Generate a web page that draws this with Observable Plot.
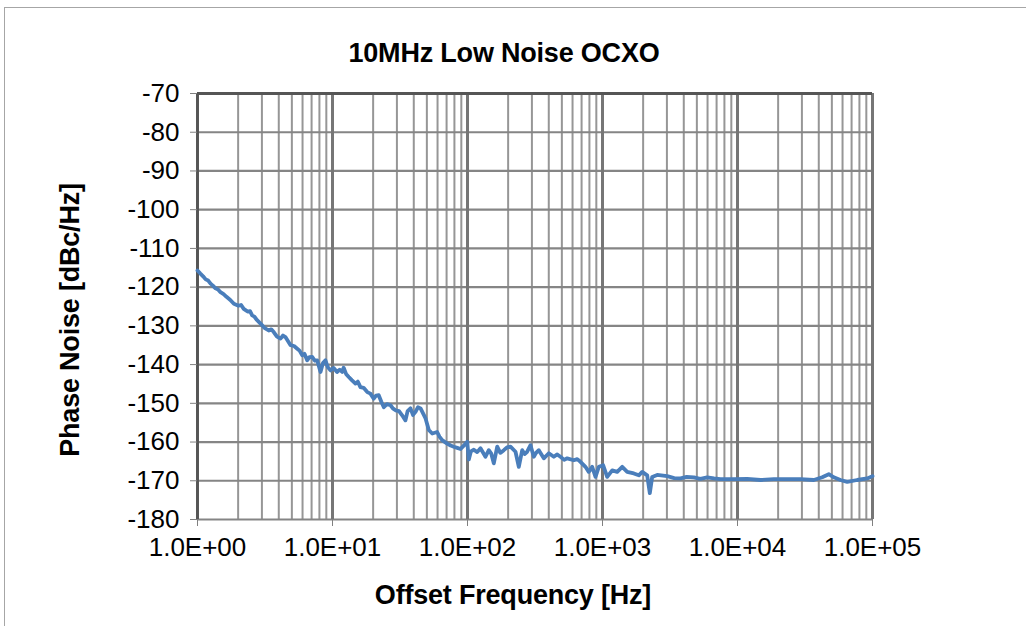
<!DOCTYPE html>
<html>
<head>
<meta charset="utf-8">
<script src="https://cdn.jsdelivr.net/npm/d3@7"></script>
<script src="https://cdn.jsdelivr.net/npm/@observablehq/plot@0.6"></script>
<style>
  html, body { margin: 0; padding: 0; background: #fff; }
  #wrap { position: relative; width: 1026px; height: 626px; overflow: hidden; font-family: "Liberation Sans", Arial, sans-serif; }
  #frame { position: absolute; left: 4px; top: 7px; width: 1100px; height: 700px; border-top: 1.5px solid #a6a6a6; border-left: 1.5px solid #a6a6a6; }
  .lbl { position: absolute; font-weight: bold; color: #000; white-space: nowrap; }
  #title { left: 0; width: 1008px; top: 38px; text-align: center; font-size: 27px; letter-spacing: -0.2px; }
  #xlabel { left: 0; width: 1026px; top: 580px; text-align: center; font-size: 27px; letter-spacing: -0.2px; }
  #ylabel { left: 70px; top: 320px; font-size: 27px; letter-spacing: -0.2px; transform: translate(-50%, -50%) rotate(-90deg); }
  svg { position: absolute; left: 0; top: 0; }
</style>
</head>
<body>
<div id="wrap">
  <div id="frame"></div>
  <div id="chart"></div>
  <div id="title" class="lbl">10MHz Low Noise OCXO</div>
  <div id="xlabel" class="lbl">Offset Frequency [Hz]</div>
  <div id="ylabel" class="lbl">Phase Noise [dBc/Hz]</div>
</div>
<script>
// Offset frequency [Hz]
const freq = [
  1.00, 1.05, 1.10, 1.15, 1.20, 1.25, 1.30, 1.36, 1.42, 1.48, 1.56, 1.64, 1.75, 1.86, 2.01, 2.10, 2.20, 2.35, 2.45, 2.54, 2.64, 2.74, 2.93, 3.13, 3.37,
  3.52, 3.67, 3.88, 4.12, 4.30, 4.48, 4.89, 5.19, 5.48, 5.70, 5.97, 6.20, 6.49, 6.75, 7.07, 7.40, 7.70, 8.15, 8.50, 8.87, 9.20, 9.66, 10.2, 10.8, 11.3, 11.8,
  12.1, 12.6, 13.2, 13.9, 14.8, 15.4, 16.1, 17.0, 18.1, 19.1, 20.2, 21.0, 22.0, 23.0, 24.0, 25.3, 26.9, 28.0, 29.3, 31.1, 32.8,
  34.7, 36.0, 37.8, 39.5, 41.2, 43.0, 44.9, 48.9, 51.7, 54.8, 59.6, 62.0, 64.9, 70.7, 75.0, 79.1, 84.0, 88.8, 93.4, 99.5, 102.3, 106.0, 111.4,
  118.0, 124.8, 135.9, 143.8, 150.0, 156.6, 166, 175.0, 185.8, 196.0, 208.2, 226.8, 239.9, 254.3, 265.0, 276.8, 292.9, 309.8, 322.0, 337.4, 367.4, 400.2,
  435.9, 460.0, 488.4, 520.0, 547.5, 612.8, 650.0, 686.4, 747.6, 791, 838.9, 887.5, 939, 1012, 1083, 1180, 1285, 1400, 1524,
  1706, 1858, 1968, 2143, 2241, 2334, 2541, 3014, 3400, 3781, 4200, 4747, 5300, 5965, 6700, 7486, 9390, 11800, 14800, 18570,
  23330, 29290, 36740, 42410, 47440, 51680, 57940, 64940, 77040, 91340, 100000
];
// Phase noise [dBc/Hz]
const noise = [
  -115.7, -116.5, -117.2, -118.0, -118.3, -119.1, -119.6, -120.3, -120.6, -121.3, -121.8, -122.5, -123.3, -124.3, -124.8, -124.6, -125.6, -126.3, -126.2, -127.3, -127.6, -128.4, -129.4, -130.5, -131.2,
  -130.9, -131.6, -132.8, -133.3, -132.5, -132.9, -135.0, -135.2, -135.9, -136.4, -137.6, -137.2, -138.9, -138.1, -138.0, -139.0, -138.9, -141.9, -139.6, -138.9, -140.6, -141.5, -140.9, -141.9, -141.3, -141.9,
  -140.8, -142.4, -143.2, -144.0, -144.9, -144.4, -145.8, -146.0, -147.1, -147.5, -148.8, -148.0, -147.9, -149.6, -151.0, -150.2, -150.5, -151.3, -151.8, -152.0, -153.1,
  -154.4, -152.0, -151.3, -153.0, -152.2, -151.0, -151.3, -153.9, -156.9, -157.8, -157.4, -158.6, -159.5, -160.4, -160.9, -161.2, -161.5, -161.8, -161.0, -159.9, -164.5, -162.4, -162.0,
  -162.6, -161.6, -163.8, -162.1, -163.0, -165.5, -161.2, -162.8, -162.1, -161.4, -161.2, -162.5, -166.4, -162.1, -163.1, -162.5, -160.8, -163.8, -162.8, -162.1, -164.2, -162.9,
  -163.8, -163.2, -163.8, -164.6, -164.2, -164.7, -164.4, -165.1, -166.4, -167.7, -166.4, -169.0, -166.4, -166.0, -169.0, -167.3, -167.7, -166.4, -167.7,
  -168.1, -168.6, -167.7, -168.6, -173.2, -169.0, -168.5, -168.8, -169.3, -169.4, -169.0, -169.1, -169.5, -169.1, -169.4, -169.6, -169.6, -169.5, -169.8, -169.6,
  -169.6, -169.6, -169.8, -169.1, -168.3, -169.1, -169.8, -170.3, -169.8, -169.4, -168.8
];
const xTicks = [1, 10, 100, 1000, 10000, 100000];
const xTickLabels = ["1.0E+00", "1.0E+01", "1.0E+02", "1.0E+03", "1.0E+04", "1.0E+05"];
const yTicks = [-70, -80, -90, -100, -110, -120, -130, -140, -150, -160, -170, -180];

const data = freq.map((f, i) => ({ f, n: noise[i] }));
const minorTicks = xTicks.slice(0, -1).flatMap(d => [2, 3, 4, 5, 6, 7, 8, 9].map(k => k * d));

const chart = Plot.plot({
  width: 1026,
  height: 626,
  marginLeft: 197,
  marginRight: 154,
  marginTop: 93,
  marginBottom: 107,
  style: { fontFamily: "'Liberation Sans', Arial, sans-serif", background: "transparent", color: "#000" },
  x: { type: "log", domain: [1, 100000] },
  y: { domain: [-180, -70] },
  marks: [
    Plot.ruleX(minorTicks, { stroke: "#969696", strokeWidth: 2 }),
    Plot.ruleY(yTicks, { stroke: "#858585", strokeWidth: 2.2 }),
    Plot.ruleX(xTicks, { stroke: "#767676", strokeWidth: 3 }),
    Plot.ruleX([1], { stroke: "#555555", strokeWidth: 2.8 }),
    Plot.ruleY([-70], { stroke: "#555555", strokeWidth: 2.8 }),
    Plot.axisX(xTicks, { tickFormat: d => xTickLabels[xTicks.indexOf(d)], tickSize: 7, tickPadding: 11, fontSize: 26, stroke: "#808080", fill: "#000", label: null }),
    Plot.axisY(yTicks, { tickFormat: d => String(d), tickSize: 7, tickPadding: 11, fontSize: 26, stroke: "#808080", fill: "#000", label: null }),
    Plot.line(data, { x: "f", y: "n", stroke: "#4a7ebb", strokeWidth: 3.8, strokeLinejoin: "round" })
  ]
});
document.getElementById("chart").appendChild(chart);
</script>
</body>
</html>
